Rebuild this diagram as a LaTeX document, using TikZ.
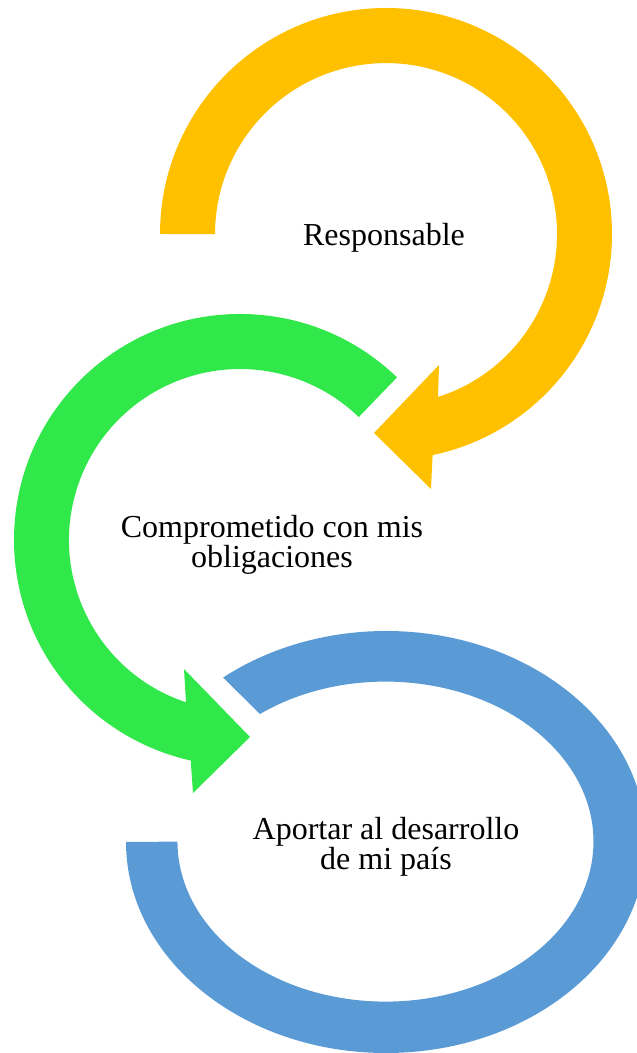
\documentclass[tikz,border=0pt]{standalone}
\usepackage{fontspec}
\setmainfont{Liberation Serif}
\definecolor{cyellow}{HTML}{FFC000}
\definecolor{cgreen}{HTML}{31E84B}
\definecolor{cblue}{HTML}{5B9BD5}
\begin{document}
\begin{tikzpicture}[x=1pt,y=1pt,
  band/.style={draw=none},
  label/.style={inner sep=0pt,align=center,font=\fontsize{32}{29}\selectfont,text=black}]
\useasboundingbox (0,0) rectangle (637,1053);
\clip (0,0) rectangle (637,1053);
% yellow circular arrow
\fill[band,cyellow] (160,819) arc[start angle=180, end angle=-78.1, radius=226]
  -- (431,564) -- (374,620) -- (439,688) -- (438,656)
  arc[start angle=-72.3, end angle=180, radius=171] -- cycle;
% green circular arrow
\fill[band,cgreen] (397,675.6) arc[start angle=46, end angle=257.4, radius=226]
  -- (193,260) -- (250,316) -- (184,384) -- (186,350.7)
  arc[start angle=251.6, end angle=46, radius=171] -- cycle;
% blue circular band
\fill[band,cblue] (126,211) arc[start angle=180, end angle=488.8, x radius=260, y radius=211]
  -- (260,339) arc[start angle=487.1, end angle=180, x radius=208, y radius=160] -- cycle;
% texts
\node[label,anchor=base] (t1) at (384,807) {Responsable};
\node[label,anchor=base] (t2) at (272,485) {Comprometido con mis\\obligaciones};
\node[label,anchor=base] (t3) at (386,183) {Aportar al desarrollo\\de mi país};
\end{tikzpicture}
\end{document}
